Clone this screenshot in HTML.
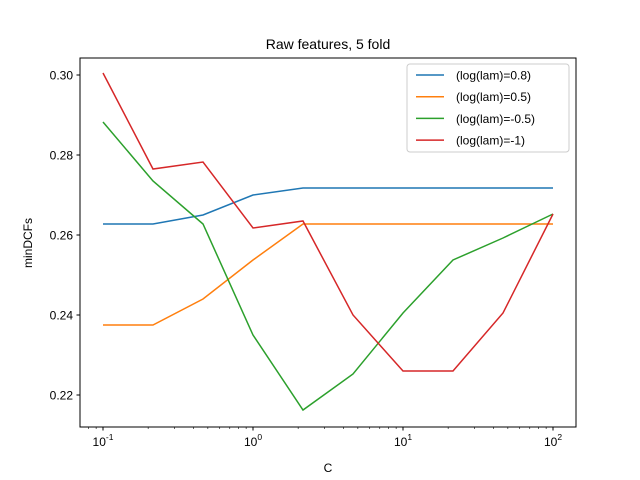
<!DOCTYPE html>
<html><head><meta charset="utf-8"><style>body{margin:0;background:#fff}svg{display:block;font-family:"Liberation Sans","DejaVu Sans",sans-serif}text{white-space:pre}</style></head>
<body>
<svg id="chart" width="640" height="480">
<rect x="0" y="0" width="640" height="480" fill="#fff"/>
<text x="328" y="49" font-size="14" text-anchor="middle">Raw features, 5 fold</text>
<text x="328" y="472" font-size="12" text-anchor="middle">C</text>
<text x="0" y="0" font-size="12" text-anchor="middle" transform="translate(32,243) rotate(-90)">minDCFs</text>
<g id="plot"></g>
<rect x="80" y="58" width="496" height="369" fill="none" stroke="#000" stroke-width="1"/>
</svg>
<script>
const cValues=[0.1,0.2154,0.4642,1,2.154,4.642,10,21.54,46.42,100];
const seriesNames=["(log(lam)=0.8)","(log(lam)=0.5)","(log(lam)=-0.5)","(log(lam)=-1)"];
const seriesBlue=[0.26275,0.26275,0.265,0.270,0.27175,0.27175,0.27175,0.27175,0.27175,0.27175];
const seriesOrange=[0.2375,0.2375,0.244,0.25375,0.26275,0.26275,0.26275,0.26275,0.26275,0.26275];
const seriesGreen=[0.28825,0.2735,0.26275,0.235,0.21625,0.22525,0.2405,0.25375,0.25925,0.26525];
const seriesRed=[0.3005,0.2765,0.27825,0.26175,0.2635,0.240,0.226,0.226,0.2405,0.26525];
const colors=["#1f77b4","#ff7f0e","#2ca02c","#d62728"];
const yTicks=[0.22,0.24,0.26,0.28,0.30];
const xTickExps=[-1,0,1,2];
const NS="http://www.w3.org/2000/svg";
const g=document.getElementById('plot');
const L=80,R=576,T=58,B=427;
function xs(c){return 253+150*Math.log10(c);}
function ys(v){return 75+(0.30-v)*4000;}
function mk(t,a){const e=document.createElementNS(NS,t);for(const k in a)e.setAttribute(k,a[k]);g.appendChild(e);return e;}
yTicks.forEach(v=>{const y=ys(v);
 const t=mk('line',{x1:L-3.5,x2:L,y1:y,y2:y,stroke:'#000'});
 
 
 const tx=mk('text',{x:L-7,y:y+4.5,'font-size':12,'text-anchor':'end'});tx.textContent=v.toFixed(2);
 
 
});
for(let d=-2;d<=2;d++)for(let m=2;m<=9;m++){const x=xs(m*Math.pow(10,d));if(x>L&&x<R){
 const t=mk('line',{x1:x,x2:x,y1:B,y2:B+2,stroke:'#000','stroke-width':0.6});
 
 }}
xTickExps.forEach(e=>{const x=xs(Math.pow(10,e));
 const t=mk('line',{x1:x,x2:x,y1:B,y2:B+3.5,stroke:'#000'});
 
 
 const tx=mk('text',{x:x,y:B+19,'font-size':12,'text-anchor':'middle'});
 tx.innerHTML='10<tspan dy="-6" font-size="8.5">'+e+'</tspan>';
 
 
});
[seriesBlue,seriesOrange,seriesGreen,seriesRed].forEach((s,i)=>{
 const p=mk('polyline',{points:s.map((v,j)=>xs(cValues[j])+','+ys(v)).join(' '),fill:'none',stroke:colors[i],'stroke-width':1.5});
 
 
});
const lg=mk('rect',{x:407,y:64,width:162,height:88,rx:3,fill:'#fff','fill-opacity':0.8,stroke:'#ccc'});


seriesNames.forEach((n,i)=>{const y=75+i*21.7;
 const l=mk('line',{x1:416,x2:444,y1:y,y2:y,stroke:colors[i],'stroke-width':1.5});
 
 
 const t=mk('text',{x:456,y:y+4.5,'font-size':12});t.textContent=n;
 
 
});
</script>
</body></html>
